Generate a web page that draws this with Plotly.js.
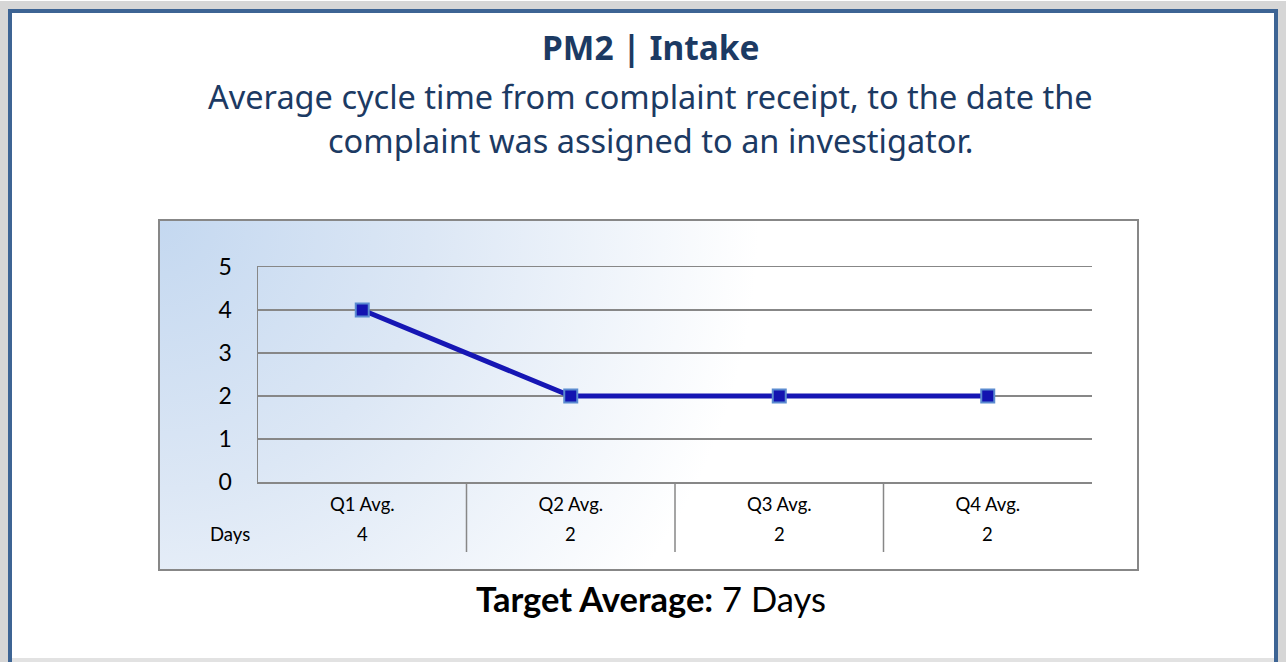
<!DOCTYPE html>
<html>
<head>
<meta charset="utf-8">
<script src="https://cdn.plot.ly/plotly-3.0.1.min.js"></script>
<style>
html,body{margin:0;padding:0;background:#fff;}
#chart{width:1286px;height:662px;}
</style>
</head>
<body>
<div id="chart"></div>
<script>
// ---- data ----
const categories = ['Q1 Avg.', 'Q2 Avg.', 'Q3 Avg.', 'Q4 Avg.'];
const days = [4, 2, 2, 2];
const rowLabel = 'Days';
const yTicks = [0, 1, 2, 3, 4, 5];
const titleText = 'PM2 | Intake';
const subtitleLines = ['Average cycle time from complaint receipt, to the date the',
                       'complaint was assigned to an investigator.'];
const targetLabel = 'Target Average:';
const targetValue = '7 Days';

// ---- geometry helpers (pixels -> paper) ----
const W = 1286, H = 662;
const px = x => x / W;
const py = y => 1 - y / H;

const gridGray = '#878787';
const calibri = 'Lato, "Liberation Sans", sans-serif';
const segoe = '"Noto Sans", "Open Sans", sans-serif';

// gradient background for the chart box
const svg = `<svg xmlns="http://www.w3.org/2000/svg" width="980" height="351" viewBox="0 0 980 351" preserveAspectRatio="none">
<defs><radialGradient id="g" gradientUnits="userSpaceOnUse" cx="0" cy="0" r="600">
<stop offset="0" stop-color="#c4d8f0"/><stop offset="0.45" stop-color="#dce7f5"/><stop offset="1" stop-color="#ffffff"/>
</radialGradient></defs><rect x="0" y="0" width="980" height="351" fill="url(#g)"/></svg>`;
const svgUri = 'data:image/svg+xml;charset=utf-8,' + encodeURIComponent(svg);

const trace = {
  x: categories,
  y: days,
  type: 'scatter',
  mode: 'lines+markers',
  line: {color: '#1616b4', width: 5},
  marker: {symbol: 'square', size: 13, color: '#1313b0', line: {color: '#5b8bd0', width: 2}},
  hoverinfo: 'x+y',
  showlegend: false,
  cliponaxis: false
};

const annotations = [];
annotations.push({
  text: '<b>' + titleText + '</b>', xref: 'paper', yref: 'paper', x: px(651), y: py(47),
  xanchor: 'center', yanchor: 'middle', showarrow: false,
  font: {family: segoe, size: 33.5, color: '#1c3a63'}
});
subtitleLines.forEach((t, i) => annotations.push({
  text: t, xref: 'paper', yref: 'paper', x: px(650), y: py(97 + i * 43),
  xanchor: 'center', yanchor: 'middle', showarrow: false,
  font: {family: segoe, size: 32.5, color: '#1c3a63'}
}));
annotations.push({
  text: '<b>' + targetLabel + '</b> ' + targetValue, xref: 'paper', yref: 'paper', x: px(651), y: py(598),
  xanchor: 'center', yanchor: 'middle', showarrow: false,
  font: {family: calibri, size: 34.5, color: '#000000'}
});
// data table row
annotations.push({
  text: rowLabel, xref: 'paper', yref: 'paper', x: px(230), y: py(534),
  xanchor: 'center', yanchor: 'middle', showarrow: false,
  font: {family: calibri, size: 18.5, color: '#000'}
});
categories.forEach((c, i) => annotations.push({
  text: String(days[i]), xref: 'x', yref: 'paper', x: c, y: py(534),
  xanchor: 'center', yanchor: 'middle', showarrow: false,
  font: {family: calibri, size: 18.5, color: '#000'}
}));

const shapes = [];
// outer shadow + blue frame
shapes.push({type: 'rect', xref: 'paper', yref: 'paper', x0: px(4), x1: px(1282), y0: py(700), y1: py(5),
  line: {color: '#d6d6d6', width: 8}, fillcolor: 'rgba(0,0,0,0)', layer: 'below'});
shapes.push({type: 'rect', xref: 'paper', yref: 'paper', x0: px(10), x1: px(1276), y0: py(700), y1: py(11),
  line: {color: '#3d6494', width: 4}, fillcolor: 'rgba(0,0,0,0)', layer: 'above'});
// bottom shadow strip
shapes.push({type: 'line', xref: 'paper', yref: 'paper', x0: px(12), x1: px(1274), y0: py(660), y1: py(660),
  line: {color: '#e2e2e2', width: 4}, layer: 'above'});
// chart box border
shapes.push({type: 'rect', xref: 'paper', yref: 'paper', x0: px(159), x1: px(1138), y0: py(570), y1: py(220),
  line: {color: gridGray, width: 2}, fillcolor: 'rgba(0,0,0,0)', layer: 'above'});
// table vertical separators between categories
for (let i = 0; i < categories.length - 1; i++) {
  shapes.push({type: 'line', xref: 'x', yref: 'paper', x0: i + 0.5, x1: i + 0.5, y0: py(482), y1: py(552),
    line: {color: gridGray, width: 1.5}});
}

const layout = {
  width: W, height: H,
  margin: {l: 0, r: 0, t: 0, b: 0},
  paper_bgcolor: '#ffffff',
  plot_bgcolor: '#ffffff',
  xaxis: {
    type: 'category',
    domain: [px(258), px(1092)],
    range: [-0.5, categories.length - 0.5],
    showgrid: false, zeroline: false,
    showline: true, mirror: true, linecolor: gridGray, linewidth: 1.5,
    ticks: '', tickfont: {family: calibri, size: 18.5, color: '#000'},
    ticklabelstandoff: 5,
    fixedrange: true
  },
  yaxis: {
    domain: [py(482), py(267)],
    range: [0, 5],
    tickvals: yTicks,
    showgrid: true, gridcolor: gridGray, gridwidth: 1.5,
    zeroline: false,
    showline: true, linecolor: gridGray, linewidth: 1.5,
    ticks: '', tickfont: {family: calibri, size: 23, color: '#000'},
    ticklabelstandoff: 20,
    fixedrange: true
  },
  images: [{
    source: svgUri, xref: 'paper', yref: 'paper',
    x: px(159), y: py(220), sizex: px(1138) - px(159), sizey: py(220) - py(570),
    sizing: 'stretch', xanchor: 'left', yanchor: 'top', layer: 'below'
  }],
  shapes: shapes,
  annotations: annotations,
  showlegend: false
};

Plotly.newPlot('chart', [trace], layout, {displayModeBar: false, staticPlot: true});
</script>
</body>
</html>
